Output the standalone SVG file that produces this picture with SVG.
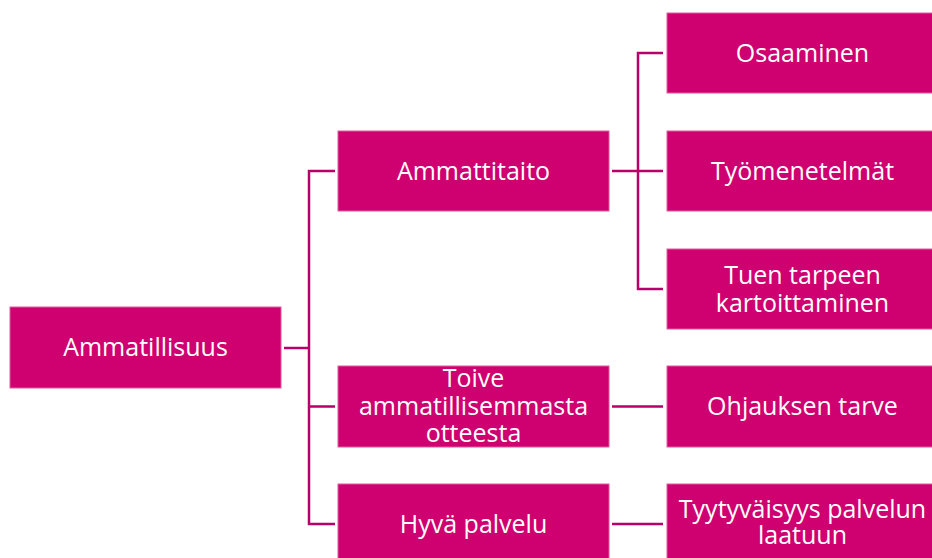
<svg xmlns="http://www.w3.org/2000/svg" width="932" height="558" viewBox="0 0 932 558">
  <style>
    .box { fill: #cf006f; stroke: #e05a9d; stroke-width: 1; }
    .lbl { fill: #ffffff; font-family: "Open Sans", "DejaVu Sans", sans-serif; font-size: 25px; text-anchor: middle; }
    .conn { fill: none; stroke: #b8006a; stroke-width: 2.5; }
  </style>
  <rect width="932" height="558" fill="#ffffff"/>

  <g id="connectors">
    <path class="conn" d="M284 348 H309"/>
    <path class="conn" d="M335 171 H309 V524 H335"/>
    <path class="conn" d="M309 406.5 H335"/>
    <path class="conn" d="M612 171 H663"/>
    <path class="conn" d="M663 53 H638 V289 H663"/>
    <path class="conn" d="M612 406.5 H663"/>
    <path class="conn" d="M612 524 H663"/>
  </g>

  <g id="ammatillisuus">
    <rect class="box" x="10" y="307" width="271" height="81"/>
    <text class="lbl" x="145.5" y="356">Ammatillisuus</text>
  </g>

  <g id="ammattitaito">
    <rect class="box" x="338" y="131" width="271" height="80"/>
    <text class="lbl" x="473.5" y="180">Ammattitaito</text>
  </g>

  <g id="toive">
    <rect class="box" x="338" y="366" width="271" height="81"/>
    <text class="lbl" x="473.5" y="387">Toive</text>
    <text class="lbl" x="473.5" y="414.5">ammatillisemmasta</text>
    <text class="lbl" x="473.5" y="442">otteesta</text>
  </g>

  <g id="hyva-palvelu">
    <rect class="box" x="338" y="484" width="271" height="80"/>
    <text class="lbl" x="473.5" y="533">Hyvä palvelu</text>
  </g>

  <g id="osaaminen">
    <rect class="box" x="667" y="13" width="271" height="80"/>
    <text class="lbl" x="802.5" y="62">Osaaminen</text>
  </g>

  <g id="tyomenetelmat">
    <rect class="box" x="667" y="131" width="271" height="80"/>
    <text class="lbl" x="802.5" y="180">Työmenetelmät</text>
  </g>

  <g id="tuen-tarpeen">
    <rect class="box" x="667" y="249" width="271" height="80"/>
    <text class="lbl" x="802.5" y="284">Tuen tarpeen</text>
    <text class="lbl" x="802.5" y="311.5">kartoittaminen</text>
  </g>

  <g id="ohjauksen-tarve">
    <rect class="box" x="667" y="366" width="271" height="81"/>
    <text class="lbl" x="802.5" y="415">Ohjauksen tarve</text>
  </g>

  <g id="tyytyvaisyys">
    <rect class="box" x="667" y="484" width="271" height="80"/>
    <text class="lbl" x="802.5" y="518">Tyytyväisyys palvelun</text>
    <text class="lbl" x="802.5" y="544">laatuun</text>
  </g>
</svg>
